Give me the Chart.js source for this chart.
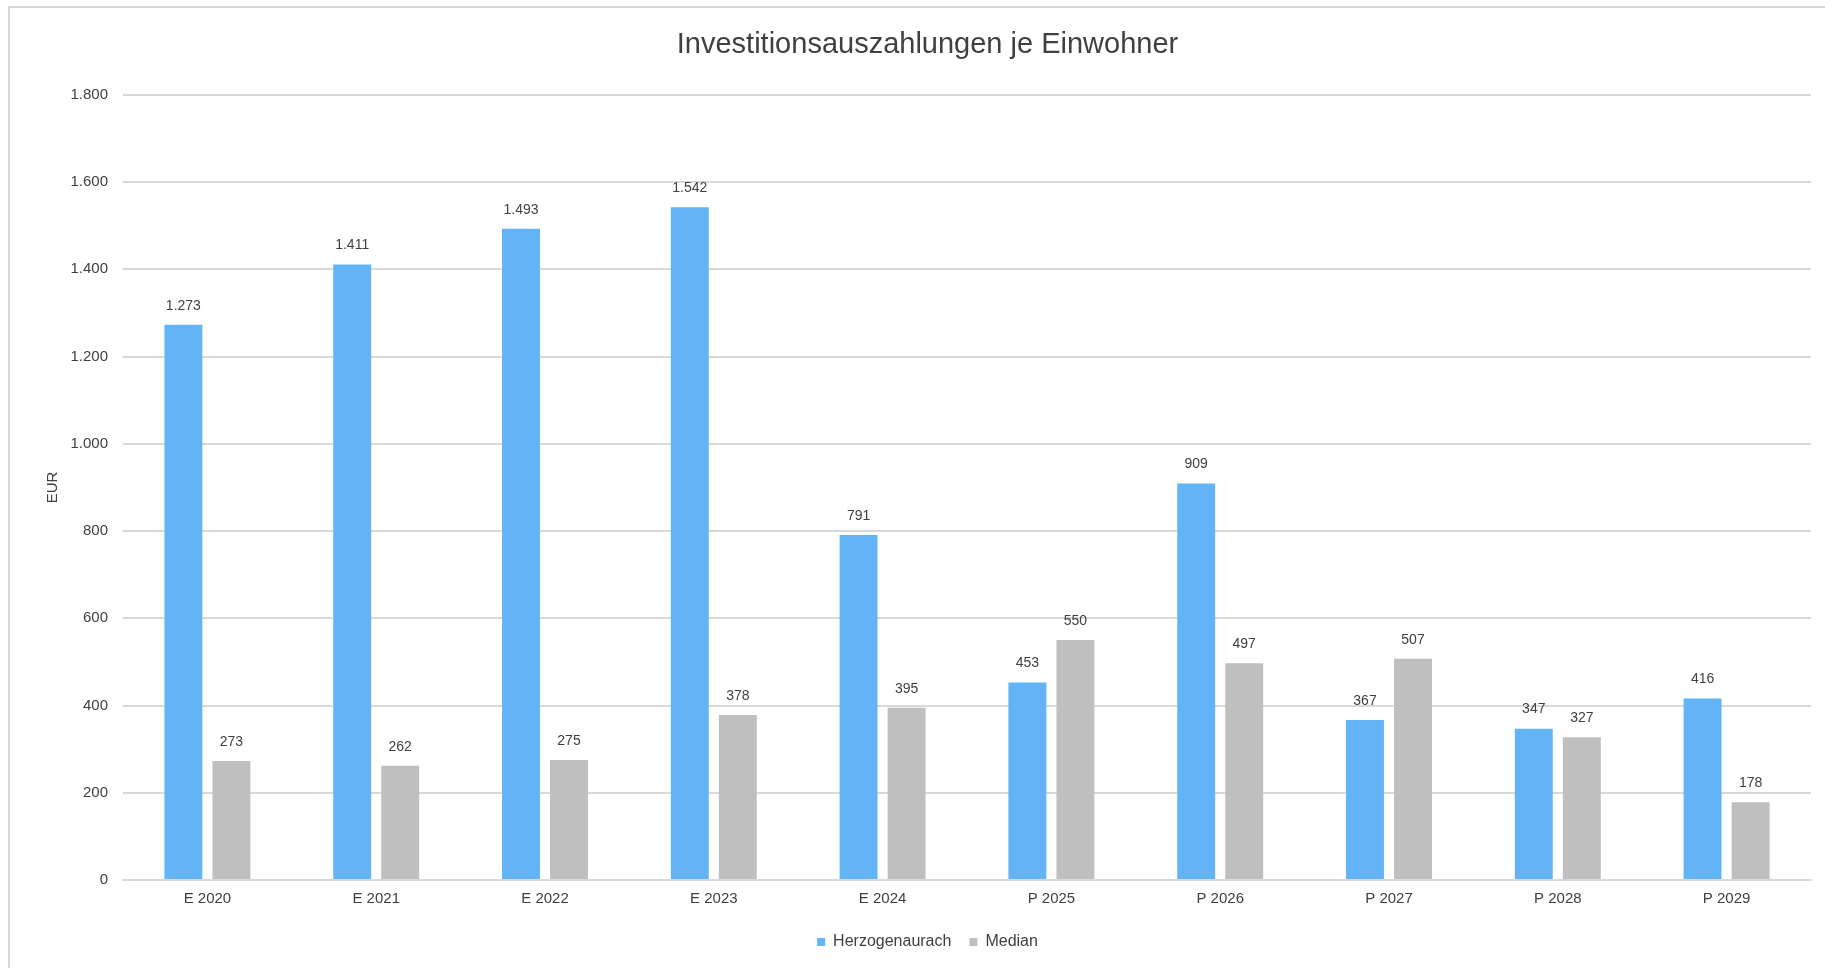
<!DOCTYPE html>
<html>
<head>
<meta charset="utf-8">
<script src="https://cdn.jsdelivr.net/npm/chart.js@4.4.1/dist/chart.umd.min.js"></script>
<style>
  html, body { margin: 0; padding: 0; background: #fff; }
  #wrap { width: 1825px; height: 968px; position: relative; }
</style>
</head>
<body>
<div id="wrap"><canvas id="chart"></canvas></div>
<script>
const categories = ['E 2020', 'E 2021', 'E 2022', 'E 2023', 'E 2024', 'P 2025', 'P 2026', 'P 2027', 'P 2028', 'P 2029'];
const herzogenaurach = [1273, 1411, 1493, 1542, 791, 453, 909, 367, 347, 416];
const median = [273, 262, 275, 378, 395, 550, 497, 507, 327, 178];
const yTicks = [0, 200, 400, 600, 800, 1000, 1200, 1400, 1600, 1800];

const FONT = '"Liberation Sans", Arial, sans-serif';
const TEXT = '#404040';

// 1273 -> "1.273"
function fmt(v) {
  return String(Math.round(v)).replace(/\B(?=(\d{3})+(?!\d))/g, '.');
}

const frame = {
  id: 'frame',
  beforeDraw(chart) {
    const c = chart.ctx;
    c.save();
    c.fillStyle = '#fff';
    c.fillRect(0, 0, chart.width, chart.height);
    c.strokeStyle = '#d9d9d9';
    c.lineWidth = 2;
    c.beginPath();
    c.moveTo(9, chart.height + 5);
    c.lineTo(9, 7);
    c.lineTo(chart.width + 5, 7);
    c.stroke();
    c.restore();
  }
};

const valueLabels = {
  id: 'valueLabels',
  afterDatasetsDraw(chart) {
    const c = chart.ctx;
    c.save();
    c.font = '14px ' + FONT;
    c.fillStyle = TEXT;
    c.textAlign = 'center';
    c.textBaseline = 'middle';
    chart.data.datasets.forEach((ds, i) => {
      chart.getDatasetMeta(i).data.forEach((bar, j) => {
        c.fillText(fmt(ds.data[j]), bar.x, bar.y - 19);
      });
    });
    c.restore();
  }
};

new Chart(document.getElementById('chart'), {
  type: 'bar',
  data: {
    labels: categories,
    datasets: [
      { label: 'Herzogenaurach', data: herzogenaurach, backgroundColor: '#63b4f6' },
      { label: 'Median', data: median, backgroundColor: '#bfbfbf' }
    ]
  },
  plugins: [frame, valueLabels],
  options: {
    responsive: true,
    maintainAspectRatio: false,
    animation: false,
    layout: { padding: { left: 44, right: 14, top: 0, bottom: 8 } },
    datasets: { bar: { categoryPercentage: 0.569, barPercentage: 0.79 } },
    plugins: {
      title: {
        display: true,
        text: 'Investitionsauszahlungen je Einwohner',
        color: TEXT,
        font: { family: FONT, size: 29, weight: 'normal' },
        padding: { top: 28, bottom: 32 }
      },
      legend: {
        position: 'bottom',
        labels: {
          color: TEXT,
          font: { family: FONT, size: 16 },
          boxWidth: 8,
          boxHeight: 8,
          padding: 18
        }
      },
      tooltip: { enabled: false }
    },
    scales: {
      x: {
        grid: { display: false, drawTicks: false },
        border: { color: '#d9d9d9', width: 2 },
        ticks: { color: TEXT, font: { family: FONT, size: 15 }, padding: 10 },
        afterFit(scale) { scale.height = 36; }
      },
      y: {
        min: 0,
        max: 1800,
        afterBuildTicks(scale) { scale.ticks = yTicks.map(v => ({ value: v })); },
        grid: { color: '#d9d9d9', lineWidth: 2, drawTicks: false },
        border: { display: false },
        ticks: {
          color: TEXT,
          font: { family: FONT, size: 15 },
          padding: 15,
          callback: v => fmt(v)
        },
        title: {
          display: true,
          text: 'EUR',
          color: TEXT,
          font: { family: FONT, size: 15 },
          padding: 0
        },
        afterFit(scale) { scale.width = 79; }
      }
    }
  }
});
</script>
</body>
</html>
